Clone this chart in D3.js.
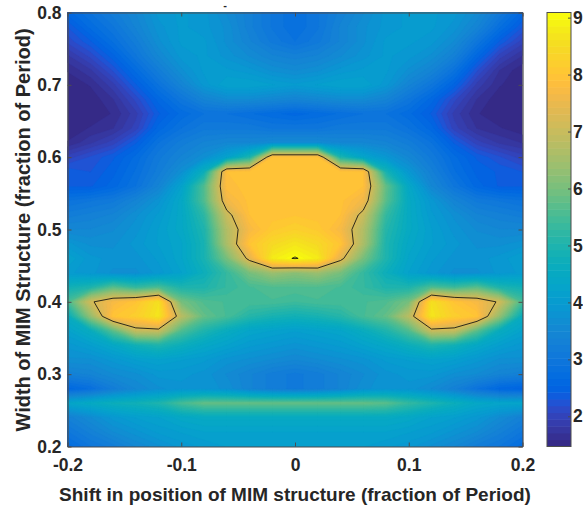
<!DOCTYPE html>
<html>
<head>
<meta charset="utf-8">
<script src="https://cdn.jsdelivr.net/npm/d3@7"></script>
<style>
  body { margin: 0; background: #fff; overflow: hidden; }
  text { font-family: "Liberation Sans", Arial, sans-serif; font-weight: bold; fill: #262626; }
</style>
</head>
<body>
<div id="chart"></div>
<script>
// Grid of the map
const shifts = [-0.2,-0.18,-0.16,-0.14,-0.12,-0.1,-0.08,-0.06,-0.04,-0.02,0,0.02,0.04,0.06,0.08,0.1,0.12,0.14,0.16,0.18,0.2];
const widths = [0.8,0.78,0.76,0.74,0.72,0.7,0.68,0.66,0.64,0.62,0.6,0.58,0.56,0.54,0.52,0.5,0.48,0.46,0.44,0.42,0.4,0.38,0.36,0.34,0.32,0.3,0.28,0.26,0.24,0.22,0.2];
const values = [
  [2.6,2.9,3.2,3.5,3.9,4.0,3.9,3.6,3.3,3.0,2.8,3.0,3.3,3.6,3.9,4.0,4.0,3.9,3.6,3.1,2.6],
  [2.3,2.7,3.0,3.4,3.8,4.0,3.9,3.7,3.3,3.0,2.8,3.0,3.4,3.7,3.9,4.0,4.0,3.8,3.4,2.8,2.3],
  [2.1,2.4,2.8,3.2,3.7,4.0,4.0,3.7,3.4,3.1,2.9,3.1,3.4,3.7,4.0,4.0,3.9,3.6,3.0,2.4,2.0],
  [1.8,2.1,2.5,3.0,3.5,3.9,4.0,3.8,3.6,3.4,3.3,3.4,3.6,3.8,4.0,3.9,3.7,3.3,2.6,2.0,1.7],
  [1.6,1.8,2.2,2.7,3.2,3.7,4.0,4.0,3.9,3.7,3.6,3.7,3.9,4.0,4.0,3.7,3.4,2.9,2.2,1.7,1.5],
  [1.5,1.6,1.9,2.4,2.9,3.4,3.9,4.2,4.2,4.1,4.0,4.1,4.2,4.2,3.9,3.4,3.0,2.5,1.9,1.6,1.5],
  [1.5,1.5,1.7,2.1,2.6,3.0,3.4,3.6,3.6,3.5,3.4,3.5,3.6,3.6,3.4,3.0,2.6,2.1,1.7,1.5,1.5],
  [1.5,1.5,1.6,1.9,2.4,2.7,2.9,2.9,2.8,2.7,2.6,2.7,2.8,2.9,2.9,2.7,2.4,1.9,1.6,1.5,1.5],
  [1.5,1.6,1.7,2.0,2.6,2.9,3.1,3.1,3.1,3.0,3.0,3.0,3.1,3.1,3.1,2.9,2.6,2.0,1.7,1.6,1.5],
  [1.6,1.8,2.0,2.4,2.9,3.2,3.4,3.5,3.5,3.6,3.6,3.6,3.5,3.5,3.4,3.2,2.9,2.4,2.0,1.8,1.7],
  [2.0,2.2,2.4,2.7,3.1,3.4,3.7,4.2,5.0,7.9,7.9,7.9,5.0,4.3,3.9,3.5,3.1,2.7,2.4,2.2,2.0],
  [2.4,2.3,2.5,2.8,3.2,3.7,4.7,7.9,7.95,7.95,7.95,7.95,7.95,7.9,4.9,3.9,3.3,2.8,2.5,2.4,2.3],
  [2.4,2.4,2.6,2.9,3.4,4.2,5.6,7.85,7.95,7.95,7.95,7.95,7.95,7.9,5.8,4.4,3.5,3.0,2.6,2.4,2.4],
  [2.9,3.0,3.1,3.4,3.8,4.4,5.6,7.6,7.95,7.95,7.95,7.95,7.95,7.6,5.7,4.5,3.9,3.4,3.1,3.0,2.9],
  [3.2,3.3,3.4,3.7,4.0,4.4,5.2,7.0,7.9,7.95,8.0,7.95,7.9,7.0,5.3,4.5,4.0,3.7,3.4,3.3,3.2],
  [3.5,3.5,3.6,3.8,4.1,4.4,5.0,6.7,7.7,8.1,8.25,8.1,7.7,6.7,5.1,4.5,4.1,3.8,3.6,3.5,3.5],
  [3.9,3.7,3.7,3.9,4.1,4.3,4.9,6.6,8.0,8.45,8.7,8.45,8.0,6.6,5.0,4.4,4.1,3.9,3.7,3.7,3.8],
  [4.2,3.9,3.8,3.8,4.0,4.3,4.9,6.0,7.4,8.8,9.09,8.8,7.4,6.0,5.0,4.3,4.0,3.8,3.8,3.9,4.1],
  [4.0,3.9,3.7,3.7,3.9,4.2,4.7,5.3,6.0,6.4,6.2,6.4,6.0,5.3,4.7,4.2,3.9,3.7,3.7,3.9,4.0],
  [4.8,5.0,5.7,5.3,5.55,5.0,5.0,5.3,5.5,5.6,5.6,5.6,5.5,5.3,5.0,5.0,5.6,5.4,5.7,5.0,4.8],
  [5.5,7.1,7.7,8.0,8.6,6.0,5.6,5.5,5.5,5.5,5.4,5.5,5.5,5.5,5.6,6.0,8.6,8.0,7.7,7.1,5.5],
  [4.6,6.3,8.0,8.2,8.7,6.8,5.8,5.5,5.1,4.9,4.8,4.9,5.1,5.5,5.8,6.8,8.7,8.2,8.0,6.3,4.6],
  [4.2,4.6,5.7,6.95,7.0,5.6,5.0,4.6,4.3,4.2,4.1,4.2,4.3,4.6,5.0,5.6,7.0,6.95,5.7,4.6,4.2],
  [3.9,4.1,4.4,4.8,5.0,4.7,4.4,4.2,4.0,3.9,3.8,3.9,4.0,4.2,4.4,4.7,5.0,4.8,4.4,4.1,3.9],
  [3.7,3.7,3.9,4.1,4.2,4.1,4.0,3.8,3.7,3.6,3.5,3.6,3.7,3.8,4.0,4.1,4.2,4.1,3.9,3.7,3.7],
  [3.3,3.4,3.6,3.7,3.9,3.9,3.8,3.6,3.4,3.2,3.1,3.2,3.4,3.6,3.8,3.9,3.9,3.7,3.6,3.4,3.3],
  [2.6,2.8,3.2,3.5,3.7,3.8,3.8,3.7,3.4,3.2,3.1,3.2,3.4,3.7,3.8,3.8,3.6,3.3,2.9,2.6,2.5],
  [4.3,4.5,4.7,4.8,5.0,5.5,5.8,5.8,5.8,5.8,5.8,5.8,5.8,5.8,5.7,5.3,5.0,4.7,4.4,4.3,4.3],
  [3.3,3.6,3.9,4.1,4.2,4.4,4.5,4.5,4.5,4.5,4.5,4.5,4.5,4.5,4.5,4.4,4.2,4.1,3.9,3.6,3.3],
  [3.0,3.3,3.6,3.8,4.0,4.1,4.2,4.2,4.2,4.2,4.2,4.2,4.2,4.2,4.2,4.1,4.0,3.8,3.6,3.3,3.0],
  [2.7,3.0,3.2,3.5,3.7,3.9,4.0,4.1,4.1,4.1,4.1,4.1,4.1,4.1,4.0,3.9,3.7,3.5,3.2,3.0,2.7],
];
const contourLevels = [7.2, 9.05];
const colorRange = [1.47, 9.09];
const xTicks = [-0.2, -0.1, 0, 0.1, 0.2];
const yTicks = [0.2, 0.3, 0.4, 0.5, 0.6, 0.7, 0.8];
const colorTicks = [2, 3, 4, 5, 6, 7, 8, 9];
// MATLAB parula, 64 steps
const parula = [
  [.2081,.1663,.5292],[.2116,.1898,.5777],[.2123,.2138,.6270],[.2081,.2386,.6771],[.1959,.2645,.7279],[.1707,.2919,.7792],[.1253,.3242,.8303],[.0591,.3598,.8683],
  [.0117,.3875,.8820],[.0060,.4086,.8828],[.0165,.4266,.8786],[.0329,.4430,.8720],[.0498,.4586,.8641],[.0629,.4737,.8554],[.0723,.4887,.8467],[.0779,.5040,.8384],
  [.0793,.5200,.8312],[.0749,.5375,.8263],[.0641,.5570,.8240],[.0488,.5772,.8228],[.0343,.5966,.8199],[.0265,.6137,.8135],[.0239,.6287,.8038],[.0231,.6418,.7913],
  [.0228,.6535,.7768],[.0267,.6642,.7607],[.0384,.6743,.7436],[.0590,.6838,.7254],[.0843,.6928,.7062],[.1133,.7015,.6859],[.1453,.7098,.6646],[.1801,.7177,.6424],
  [.2178,.7250,.6193],[.2586,.7317,.5954],[.3022,.7376,.5712],[.3482,.7424,.5473],[.3953,.7459,.5244],[.4420,.7481,.5033],[.4871,.7491,.4840],[.5300,.7491,.4661],
  [.5709,.7485,.4494],[.6099,.7473,.4337],[.6473,.7456,.4188],[.6834,.7435,.4044],[.7184,.7411,.3905],[.7525,.7384,.3768],[.7858,.7356,.3633],[.8185,.7327,.3498],
  [.8507,.7299,.3360],[.8824,.7274,.3217],[.9139,.7258,.3063],[.9450,.7261,.2886],[.9739,.7314,.2666],[.9938,.7455,.2403],[.9990,.7653,.2164],[.9955,.7861,.1967],
  [.9880,.8066,.1794],[.9789,.8271,.1633],[.9697,.8481,.1475],[.9626,.8705,.1309],[.9589,.8949,.1132],[.9598,.9218,.0948],[.9661,.9514,.0755],[.9763,.9831,.0538],
].map((c) => d3.rgb(c[0] * 255, c[1] * 255, c[2] * 255).formatHex());

const svg = d3.select("#chart").append("svg").attr("width", 583).attr("height", 506);

const x = d3.scaleLinear().domain([-0.2, 0.2]).range([67.5, 522.5]);
const y = d3.scaleLinear().domain([0.2, 0.8]).range([446.5, 12.5]);
const cy = d3.scaleLinear().domain(colorRange).range([446.5, 12.5]);

// d3.contours works in grid cell units, values sit on cell centres
const n = shifts.length;
const m = widths.length;
const gridX = d3.scaleLinear().domain([0.5, n - 0.5]).range([shifts[0], shifts[n - 1]]);
const gridY = d3.scaleLinear().domain([0.5, m - 0.5]).range([widths[0], widths[m - 1]]);
const path = d3.geoPath(
  d3.geoTransform({
    point(px, py) {
      this.stream.point(x(gridX(px)), y(gridY(py)));
    },
  })
);
const flat = values.flat();
const step = (colorRange[1] - colorRange[0]) / parula.length;
const thresholds = parula.map((c, i) => colorRange[0] + i * step);
const contours = d3.contours().size([n, m]);

svg
  .append("clipPath")
  .attr("id", "plot-clip")
  .append("rect")
  .attr("x", x.range()[0])
  .attr("y", y.range()[1])
  .attr("width", x.range()[1] - x.range()[0])
  .attr("height", y.range()[0] - y.range()[1]);

const plot = svg.append("g").attr("clip-path", "url(#plot-clip)");

plot
  .selectAll("path.band")
  .data(contours.thresholds(thresholds)(flat))
  .enter()
  .append("path")
  .attr("class", "band")
  .attr("d", path)
  .attr("fill", (d, i) => parula[i])
  .attr("stroke", (d, i) => parula[i])
  .attr("stroke-width", 0.3);

plot
  .selectAll("path.level")
  .data(contours.thresholds(contourLevels)(flat))
  .enter()
  .append("path")
  .attr("class", "level")
  .attr("d", path)
  .attr("fill", "none")
  .attr("stroke", "#111")
  .attr("stroke-opacity", 0.85)
  .attr("stroke-width", 1);

// Axes, ticks point inwards like MATLAB
function styleAxis(g) {
  g.selectAll("path").attr("stroke", "#4d4d4d").attr("stroke-width", 1.2);
  g.selectAll("line").attr("stroke", "#4d4d4d");
  g.selectAll("text").style("font-size", "17.5px").attr("fill", "#262626");
}
// the picture uses a plain hyphen for negative ticks
const xFormat = (d) => (d === 0 ? "0" : d3.format(".1f")(d).replace("\u2212", "-"));

svg.append("g").attr("transform", `translate(0,${y(0.2)})`)
  .call(d3.axisBottom(x).tickValues(xTicks).tickFormat(xFormat).tickSizeInner(-4).tickSizeOuter(0).tickPadding(12))
  .call(styleAxis);
svg.append("g").attr("transform", `translate(0,${y(0.8)})`)
  .call(d3.axisTop(x).tickValues(xTicks).tickFormat("").tickSizeInner(-4).tickSizeOuter(0))
  .call(styleAxis);
svg.append("g").attr("transform", `translate(${x(-0.2)},0)`)
  .call(d3.axisLeft(y).tickValues(yTicks).tickFormat(d3.format(".1f")).tickSizeInner(-4).tickSizeOuter(0).tickPadding(6))
  .call(styleAxis);
svg.append("g").attr("transform", `translate(${x(0.2)},0)`)
  .call(d3.axisRight(y).tickValues(yTicks).tickFormat("").tickSizeInner(-4).tickSizeOuter(0))
  .call(styleAxis);

svg.append("text")
  .attr("x", 295)
  .attr("y", 501)
  .attr("text-anchor", "middle")
  .style("font-size", "19px")
  .text("Shift in position of MIM structure (fraction of Period)");

svg.append("text")
  .attr("transform", "translate(30,230) rotate(-90)")
  .attr("text-anchor", "middle")
  .style("font-size", "20px")
  .text("Width of MIM Structure (fraction of Period)");

// Cut-off remains of the title
svg.append("text")
  .attr("x", 225)
  .attr("y", 9)
  .attr("text-anchor", "middle")
  .style("font-size", "11px")
  .text("-");

// Colorbar
const barLeft = 547;
const barRight = 571;
svg
  .selectAll("rect.swatch")
  .data(parula)
  .enter()
  .append("rect")
  .attr("class", "swatch")
  .attr("x", barLeft)
  .attr("width", barRight - barLeft)
  .attr("y", (d, i) => cy(colorRange[0] + (i + 1) * step))
  .attr("height", (d, i) => cy(colorRange[0] + i * step) - cy(colorRange[0] + (i + 1) * step) + 0.5)
  .attr("fill", (d) => d);

svg.append("rect")
  .attr("x", barLeft)
  .attr("y", cy.range()[1])
  .attr("width", barRight - barLeft)
  .attr("height", cy.range()[0] - cy.range()[1])
  .attr("fill", "none")
  .attr("stroke", "#4d4d4d");

svg.append("g").attr("transform", `translate(${barRight},0)`)
  .call(d3.axisRight(cy).tickValues(colorTicks).tickFormat(d3.format("d")).tickSizeInner(-3).tickSizeOuter(0).tickPadding(2))
  .call(styleAxis)
  .call((g) => g.select(".domain").remove());
</script>
</body>
</html>
